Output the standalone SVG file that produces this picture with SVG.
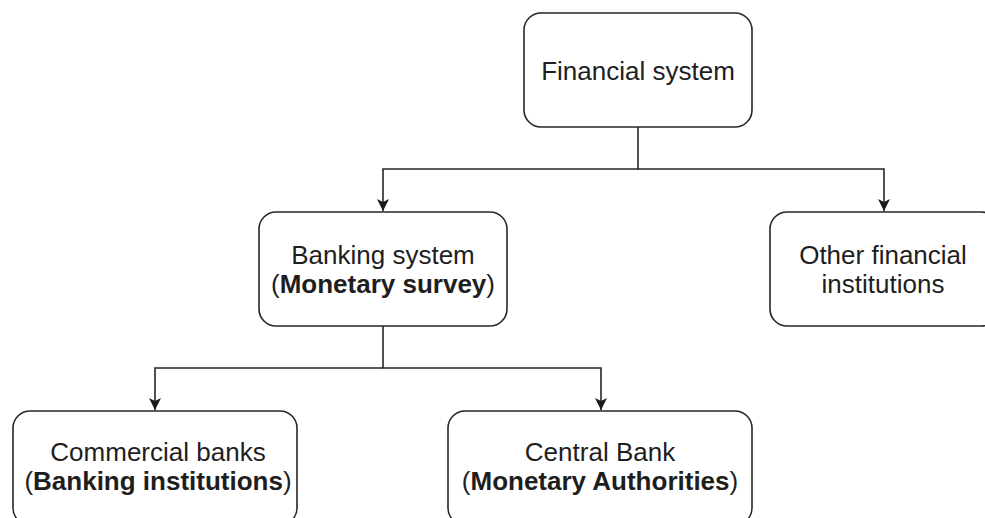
<svg xmlns="http://www.w3.org/2000/svg" width="985" height="518" viewBox="0 0 985 518">
<style>
.box{fill:#fff;stroke:#262626;stroke-width:1.6}
.t{font-family:"Liberation Sans",Arial,sans-serif;font-size:26px;fill:#1e1e1e;text-anchor:middle}
.b{font-weight:bold}
.c{fill:none;stroke:#262626;stroke-width:1.6}
</style>
<defs>
<marker id="ah" viewBox="0 0 10 10" refX="10" refY="5" markerWidth="12" markerHeight="12" markerUnits="userSpaceOnUse" orient="auto">
<path d="M0,0 L10,5 L0,10 L2.5,5 Z" fill="#1a1a1a"/>
</marker>
</defs>
<rect width="985" height="518" fill="#fff"/>
<g id="connectors">
<path class="c" d="M638,127 V169 H383 V211" marker-end="url(#ah)"/>
<path class="c" d="M638,169 H884 V211" marker-end="url(#ah)"/>
<path class="c" d="M383,326 V368 H155 V410" marker-end="url(#ah)"/>
<path class="c" d="M383,368 H601 V410" marker-end="url(#ah)"/>
</g>
<g id="financial-system">
<rect class="box" x="524" y="13" width="228" height="114" rx="17"/>
<text class="t" x="638" y="80">Financial system</text>
</g>
<g id="banking-system">
<rect class="box" x="259" y="212" width="248" height="114" rx="17"/>
<text class="t" x="383" y="264">Banking system</text>
<text class="t" x="383" y="293">(<tspan class="b">Monetary survey</tspan>)</text>
</g>
<g id="other-financial">
<rect class="box" x="770" y="212" width="228" height="114" rx="17"/>
<text class="t" x="883" y="264">Other financial</text>
<text class="t" x="883" y="293">institutions</text>
</g>
<g id="commercial-banks">
<rect class="box" x="13" y="411" width="284" height="114" rx="17"/>
<text class="t" x="158" y="461">Commercial banks</text>
<text class="t" x="158" y="490">(<tspan class="b">Banking institutions</tspan>)</text>
</g>
<g id="central-bank">
<rect class="box" x="448" y="411" width="304" height="114" rx="17"/>
<text class="t" x="600" y="461">Central Bank</text>
<text class="t" x="600" y="490">(<tspan class="b">Monetary Authorities</tspan>)</text>
</g>
</svg>
